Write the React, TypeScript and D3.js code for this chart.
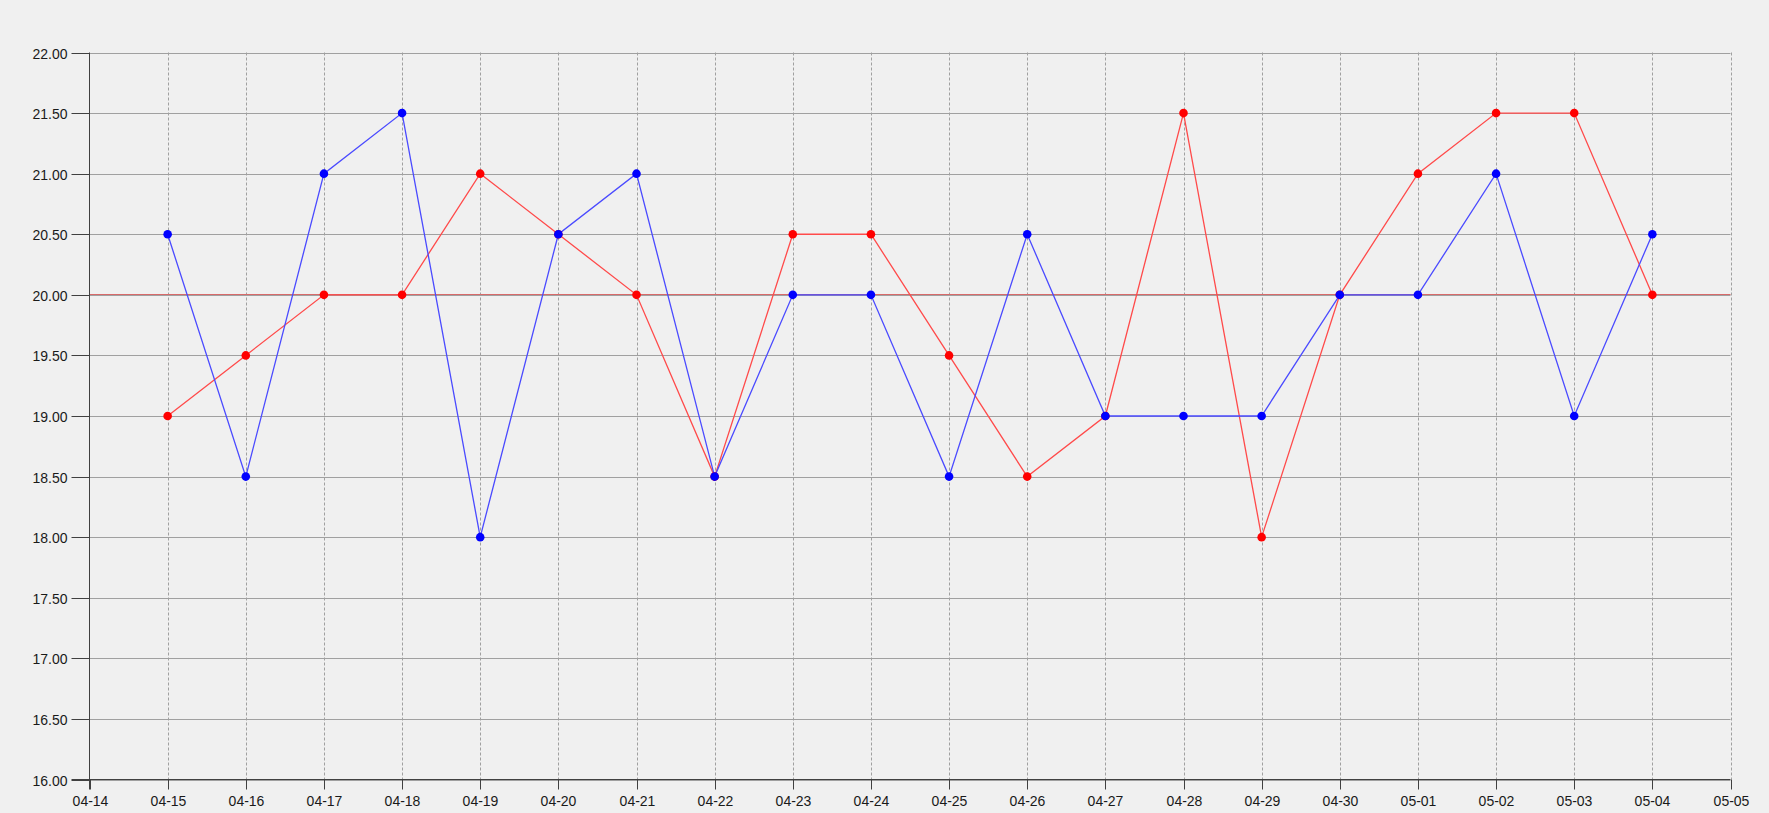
import React, { useEffect, useRef } from 'react';
import * as d3 from 'd3';

// date labels on the x axis (04-14 .. 05-05)
const dateLabels = [
  '04-14', '04-15', '04-16', '04-17', '04-18', '04-19', '04-20', '04-21',
  '04-22', '04-23', '04-24', '04-25', '04-26', '04-27', '04-28', '04-29',
  '04-30', '05-01', '05-02', '05-03', '05-04', '05-05',
];

// dates that have points
const pointDates = dateLabels.slice(1, 21);

const redValues = [
  19, 19.5, 20, 20, 21, 20.5, 20, 18.5, 20.5, 20.5,
  19.5, 18.5, 19, 21.5, 18, 20, 21, 21.5, 21.5, 20,
];

const blueValues = [
  20.5, 18.5, 21, 21.5, 18, 20.5, 21, 18.5, 20, 20,
  18.5, 20.5, 19, 19, 19, 20, 20, 21, 19, 20.5,
];

const yTicks = [16, 16.5, 17, 17.5, 18, 18.5, 19, 19.5, 20, 20.5, 21, 21.5, 22];
const referenceValue = 20;

const W = 1769;
const H = 813;

const App: React.FC = () => {
  const svgRef = useRef<SVGSVGElement>(null);

  useEffect(() => {
    if (!svgRef.current) return;
    const svg = d3.select(svgRef.current);
    svg.selectAll('*').remove();

    const left = 89.5;
    const right = 1730.5;
    const top = 52.5;
    const bottom = 779.5;

    const x = d3.scalePoint<string>().domain(dateLabels).range([left, right]);
    const y = d3.scaleLinear().domain([16, 22]).range([bottom, top]);

    svg.append('rect').attr('width', W).attr('height', H).attr('fill', '#f0f0f0');

    // horizontal grid
    svg.append('g')
      .selectAll('line')
      .data(yTicks)
      .enter()
      .append('line')
      .attr('x1', left)
      .attr('x2', right)
      .attr('y1', d => Math.round(y(d)) + 0.5)
      .attr('y2', d => Math.round(y(d)) + 0.5)
      .attr('stroke', '#a0a0a0')
      .attr('stroke-width', 1);

    // vertical dashed grid
    svg.append('g')
      .selectAll('line')
      .data(dateLabels.slice(1))
      .enter()
      .append('line')
      .attr('x1', d => Math.round(x(d)!) + 0.5)
      .attr('x2', d => Math.round(x(d)!) + 0.5)
      .attr('y1', top)
      .attr('y2', bottom)
      .attr('stroke', '#a0a0a0')
      .attr('stroke-width', 1)
      .attr('stroke-dasharray', '3,2');

    // reference line at 20
    const ry = Math.round(y(referenceValue)) - 0.5;
    svg.append('line')
      .attr('x1', left)
      .attr('x2', right)
      .attr('y1', ry)
      .attr('y2', ry)
      .attr('stroke', '#d86a6a')
      .attr('stroke-width', 1.2);

    // axes
    const axisColor = '#404040';
    svg.append('line')
      .attr('x1', left).attr('x2', left).attr('y1', top).attr('y2', bottom + 10)
      .attr('stroke', axisColor).attr('stroke-width', 1);
    svg.append('line')
      .attr('x1', left - 18).attr('x2', right).attr('y1', bottom).attr('y2', bottom)
      .attr('stroke', axisColor).attr('stroke-width', 1);

    const font = '"Liberation Sans", "DejaVu Sans", sans-serif';

    // y ticks and labels
    const yg = svg.append('g');
    yTicks.forEach(t => {
      const yy = Math.round(y(t)) + 0.5;
      yg.append('line')
        .attr('x1', left - 18).attr('x2', left).attr('y1', yy).attr('y2', yy)
        .attr('stroke', axisColor);
      yg.append('text')
        .attr('x', left - 22)
        .attr('y', yy)
        .attr('text-anchor', 'end')
        .attr('dominant-baseline', 'central')
        .attr('font-family', font)
        .attr('font-size', 14)
        .attr('fill', '#1a1a1a')
        .text(t.toFixed(2));
    });

    // x ticks and labels
    const xg = svg.append('g');
    dateLabels.forEach(dl => {
      const xx = Math.round(x(dl)!) + 0.5;
      xg.append('line')
        .attr('x1', xx).attr('x2', xx).attr('y1', bottom).attr('y2', bottom + 10)
        .attr('stroke', axisColor);
      xg.append('text')
        .attr('x', xx)
        .attr('y', bottom + 21)
        .attr('text-anchor', 'middle')
        .attr('dominant-baseline', 'central')
        .attr('font-family', font)
        .attr('font-size', 14)
        .attr('fill', '#1a1a1a')
        .text(dl);
    });

    const series = [
      { values: redValues, line: '#ff4a4a', dot: '#ff0000' },
      { values: blueValues, line: '#4a4aff', dot: '#0000ff' },
    ];

    const lineGen = d3.line<number>()
      .x((_, i) => x(pointDates[i])!)
      .y(d => y(d));

    series.forEach(s => {
      svg.append('path')
        .datum(s.values)
        .attr('d', lineGen)
        .attr('fill', 'none')
        .attr('stroke', s.line)
        .attr('stroke-width', 1.3);
    });
    series.forEach(s => {
      svg.append('g')
        .selectAll('circle')
        .data(s.values)
        .enter()
        .append('circle')
        .attr('cx', (_, i) => x(pointDates[i])!)
        .attr('cy', d => y(d))
        .attr('r', 4.3)
        .attr('fill', s.dot);
    });
  }, []);

  return (
    <div style={{ position: 'fixed', left: 0, top: 0, width: W, height: H }}>
      <svg ref={svgRef} width={W} height={H} style={{ display: 'block' }} />
    </div>
  );
};

export default App;
